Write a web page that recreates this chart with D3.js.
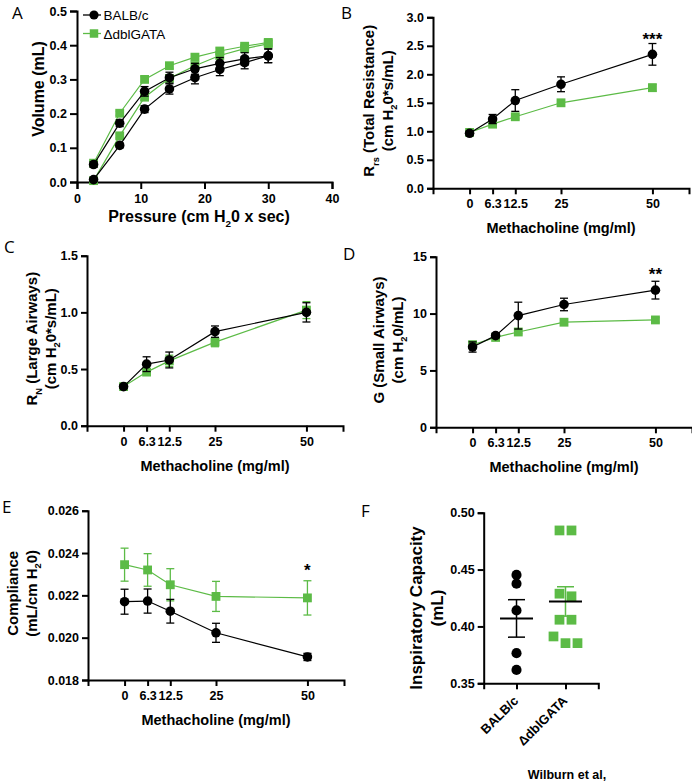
<!DOCTYPE html>
<html>
<head>
<meta charset="utf-8">
<script src="https://cdn.jsdelivr.net/npm/d3@7"></script>
<style>
  body { margin: 0; background: #fff; }
  text { font-family: "Liberation Sans", Arial, sans-serif; }
</style>
</head>
<body>
<svg width="692" height="781"></svg>
<script>
var BLACK = '#000';
var GREEN = '#5cbb46';

// Panel A - pressure/volume loops
var pvPressure = [2.6, 6.7, 10.6, 14.5, 18.5, 22.4, 26.3, 30];
var pvBalbUp = [0.051, 0.172, 0.265, 0.305, 0.331, 0.347, 0.360, 0.369];
var pvBalbUpErr = [0.008, 0.010, 0.014, 0.016, 0.016, 0.017, 0.018, 0.020];
var pvBalbLow = [0.007, 0.107, 0.213, 0.272, 0.305, 0.329, 0.349, 0.369];
var pvBalbLowErr = [0.004, 0.007, 0.010, 0.015, 0.018, 0.018, 0.018, 0.020];
var pvGataUp = [0.055, 0.201, 0.300, 0.340, 0.365, 0.383, 0.397, 0.408];
var pvGataUpErr = [0.006, 0.006, 0.008, 0.008, 0.009, 0.009, 0.009, 0.010];
var pvGataLow = [0.004, 0.135, 0.248, 0.303, 0.340, 0.370, 0.390, 0.404];
var pvGataLowErr = [0.003, 0.006, 0.008, 0.008, 0.009, 0.009, 0.009, 0.010];

// Panels B-E - methacholine dose response
var doses = [0, 6.3, 12.5, 25, 50];
var rrsBalb = [0.965, 1.215, 1.54, 1.825, 2.35];
var rrsBalbErr = [0.04, 0.08, 0.19, 0.13, 0.19];
var rrsGata = [0.98, 1.125, 1.255, 1.50, 1.765];
var rrsGataErr = [0.03, 0.03, 0.04, 0.05, 0.06];

var rnBalb = [0.345, 0.543, 0.58, 0.83, 1.0];
var rnBalbErr = [0.015, 0.065, 0.07, 0.05, 0.085];
var rnGata = [0.345, 0.473, 0.572, 0.737, 1.02];
var rnGataErr = [0.012, 0.025, 0.05, 0.04, 0.075];

var gBalb = [7.06, 8.06, 9.82, 10.8, 12.06];
var gBalbErr = [0.45, 0.2, 1.18, 0.55, 0.78];
var gGata = [7.26, 7.9, 8.38, 9.24, 9.44];
var gGataErr = [0.3, 0.15, 0.15, 0.2, 0.2];

var cBalb = [0.02170, 0.02173, 0.02125, 0.02023, 0.01909];
var cBalbErr = [0.00059, 0.00057, 0.00056, 0.00045, 0.00017];
var cGata = [0.02345, 0.0232, 0.0225, 0.02195, 0.02188];
var cGataErr = [0.00078, 0.00077, 0.00076, 0.00071, 0.00081];

// Panel F - inspiratory capacity
var icGroups = ['BALB/c', '\u0394dblGATA'];
var icBalb = [0.4453, 0.4376, 0.4141, 0.3765, 0.3618];
var icGata = [0.4844, 0.4844, 0.4288, 0.4265, 0.4059, 0.4059, 0.3912, 0.3853, 0.3853];

var svg = d3.select('svg');

// text with _{sub} markup
function rich(t, str, size) {
  var shift = size * 0.3;
  var pending = 0;
  str.split(/(_\{[^}]*\})/).forEach(function(p) {
    if (!p) return;
    if (p.indexOf('_{') === 0) {
      t.append('tspan').attr('dy', shift + pending).attr('font-size', size * 0.62).text(p.slice(2, -1));
      pending = -shift;
    } else {
      t.append('tspan').attr('dy', pending).text(p);
      pending = 0;
    }
  });
  return t;
}

function panelLetter(letter, x, y) {
  svg.append('text').text(letter)
    .attr('x', x).attr('y', y)
    .style('font-family', '"Open Sans", "Noto Sans", sans-serif')
    .style('font-size', '17px');
}

function yLabel(lines, x0, cy, size) {
  lines.forEach(function(l, i) {
    var t = svg.append('text')
      .attr('transform', 'translate(' + (x0 + i * size * 1.25) + ',' + cy + ') rotate(-90)')
      .attr('text-anchor', 'middle')
      .style('font-size', size + 'px')
      .style('font-weight', 'bold');
    rich(t, l, size);
  });
}

function styleAxis(g) {
  g.select('.domain').attr('stroke-width', 2);
  g.selectAll('.tick line').attr('stroke-width', 2);
  g.selectAll('.tick text')
    .style('font-size', '12.5px')
    .style('font-weight', 'bold')
    .style('font-family', '"Liberation Sans", Arial, sans-serif');
}

function drawSeries(g, x, y, xs, ys, errs, color, shape) {
  var pts = xs.map(function(d, i) { return { x: d, y: ys[i], e: errs[i] }; });
  var eb = g.append('g').attr('stroke', color).attr('stroke-width', 1.3);
  pts.forEach(function(p) {
    var cx = x(p.x);
    eb.append('line').attr('x1', cx).attr('x2', cx).attr('y1', y(p.y - p.e)).attr('y2', y(p.y + p.e));
    eb.append('line').attr('x1', cx - 4).attr('x2', cx + 4).attr('y1', y(p.y + p.e)).attr('y2', y(p.y + p.e));
    eb.append('line').attr('x1', cx - 4).attr('x2', cx + 4).attr('y1', y(p.y - p.e)).attr('y2', y(p.y - p.e));
  });
  g.append('path').datum(pts)
    .attr('fill', 'none').attr('stroke', color).attr('stroke-width', 1.2)
    .attr('d', d3.line().x(function(d) { return x(d.x); }).y(function(d) { return y(d.y); }));
  g.append('g').selectAll('path').data(pts).enter().append('path')
    .attr('transform', function(d) { return 'translate(' + x(d.x) + ',' + y(d.y) + ')'; })
    .attr('d', d3.symbol().type(shape).size(shape === d3.symbolSquare ? 78 : 72))
    .attr('fill', color);
}

function dosePanel(cfg) {
  var g = svg.append('g');
  var x = d3.scaleLinear().domain([-10, 60]).range([cfg.left, cfg.left + 256]);
  var y = d3.scaleLinear().domain(cfg.yDomain).range([cfg.bottom, cfg.top]);

  g.append('g').attr('transform', 'translate(0,' + cfg.bottom + ')')
    .call(d3.axisBottom(x).tickValues(doses).tickFormat(d3.format('')).tickSizeOuter(0).tickSize(6).tickPadding(5))
    .call(styleAxis);
  g.append('g').attr('transform', 'translate(' + cfg.left + ',0)')
    .call(d3.axisLeft(y).tickValues(cfg.yTicks).tickFormat(cfg.yFormat).tickSizeOuter(0).tickSize(6).tickPadding(3))
    .call(styleAxis);

  drawSeries(g, x, y, doses, cfg.gata, cfg.gataErr, GREEN, d3.symbolSquare);
  drawSeries(g, x, y, doses, cfg.balb, cfg.balbErr, BLACK, d3.symbolCircle);

  if (cfg.star) {
    var i = doses.length - 1;
    var top = Math.max(cfg.balb[i] + cfg.balbErr[i], cfg.gata[i] + cfg.gataErr[i]);
    g.append('text').text(cfg.star)
      .attr('x', x(doses[i])).attr('y', y(top) - cfg.starGap)
      .attr('text-anchor', 'middle')
      .style('font-size', '17px').style('font-weight', 'bold');
  }

  svg.append('text').text('Methacholine (mg/ml)')
    .attr('x', cfg.left + 128).attr('y', cfg.bottom + 45)
    .attr('text-anchor', 'middle')
    .style('font-size', '14.5px').style('font-weight', 'bold');

  yLabel(cfg.yLabel, cfg.left - cfg.labelOff, (cfg.top + cfg.bottom) / 2 - 2, 15);
}

// ---------- Panel A ----------
(function() {
  var left = 77, right = 332, top = 11, bottom = 182;
  var g = svg.append('g');
  var x = d3.scaleLinear().domain([0, 40]).range([left, right]);
  var y = d3.scaleLinear().domain([0, 0.5]).range([bottom, top]);

  g.append('g').attr('transform', 'translate(0,' + bottom + ')')
    .call(d3.axisBottom(x).ticks(4).tickSizeOuter(0).tickSize(7).tickPadding(5))
    .call(styleAxis);
  g.append('g').attr('transform', 'translate(' + left + ',0)')
    .call(d3.axisLeft(y).ticks(5).tickFormat(d3.format('.1f')).tickSizeOuter(0).tickSize(7).tickPadding(3))
    .call(styleAxis);

  drawSeries(g, x, y, pvPressure, pvGataUp, pvGataUpErr, GREEN, d3.symbolSquare);
  drawSeries(g, x, y, pvPressure, pvGataLow, pvGataLowErr, GREEN, d3.symbolSquare);
  drawSeries(g, x, y, pvPressure, pvBalbUp, pvBalbUpErr, BLACK, d3.symbolCircle);
  drawSeries(g, x, y, pvPressure, pvBalbLow, pvBalbLowErr, BLACK, d3.symbolCircle);

  // legend
  var legend = [
    { name: icGroups[0], color: BLACK, shape: d3.symbolCircle },
    { name: icGroups[1], color: GREEN, shape: d3.symbolSquare }
  ];
  legend.forEach(function(l, i) {
    var ly = 15 + i * 18.5;
    g.append('line').attr('x1', 83).attr('x2', 101).attr('y1', ly).attr('y2', ly)
      .attr('stroke', l.color).attr('stroke-width', 1.3);
    g.append('path').attr('transform', 'translate(94,' + ly + ')')
      .attr('d', d3.symbol().type(l.shape).size(l.shape === d3.symbolSquare ? 72 : 66)).attr('fill', l.color);
    g.append('text').text(l.name).attr('x', 103.5).attr('y', ly + 5)
      .style('font-size', '13.5px');
  });

  rich(svg.append('text').attr('x', 199).attr('y', 222).attr('text-anchor', 'middle')
    .style('font-size', '16px').style('font-weight', 'bold'), 'Pressure (cm H_{2}0 x sec)', 16);
  yLabel(['Volume (mL)'], 44, 89, 16);
  panelLetter('A', 12, 19);
})();

// ---------- Panels B-E ----------
dosePanel({
  left: 433, top: 17.3, bottom: 188.3, yDomain: [0, 3], yTicks: d3.range(0, 3.01, 0.5), yFormat: d3.format('.1f'),
  balb: rrsBalb, balbErr: rrsBalbErr, gata: rrsGata, gataErr: rrsGataErr,
  star: '***', starGap: -1, labelOff: 59,
  yLabel: ['R_{rs} (Total Resistance)', '(cm H_{2}0*s/mL)']
});
panelLetter('B', 341, 19);

dosePanel({
  left: 87, top: 255.7, bottom: 425.7, yDomain: [0, 1.5], yTicks: [0, 0.5, 1.0, 1.5], yFormat: d3.format('.1f'),
  balb: rnBalb, balbErr: rnBalbErr, gata: rnGata, gataErr: rnGataErr,
  labelOff: 50,
  yLabel: ['R_{N} (Large Airways)', '(cm H_{2}0*s/mL)']
});
panelLetter('C', 4, 253);

dosePanel({
  left: 436, top: 256.7, bottom: 427.3, yDomain: [0, 15], yTicks: [0, 5, 10, 15], yFormat: d3.format('d'),
  balb: gBalb, balbErr: gBalbErr, gata: gGata, gataErr: gGataErr,
  star: '**', starGap: 1, labelOff: 52,
  yLabel: ['G (Small Airways)', '(cm H_{2}0/mL)']
});
panelLetter('D', 343, 260);

dosePanel({
  left: 88, top: 510.7, bottom: 680, yDomain: [0.018, 0.026], yTicks: [0.018, 0.020, 0.022, 0.024, 0.026], yFormat: d3.format('.3f'),
  balb: cBalb, balbErr: cBalbErr, gata: cGata, gataErr: cGataErr,
  star: '*', starGap: 5, labelOff: 70,
  yLabel: ['Compliance', '(mL/cm H_{2}0)']
});
panelLetter('E', 2, 513);

// ---------- Panel F ----------
(function() {
  var left = 483.7, right = 598.3, top = 512.7, bottom = 683.3;
  var g = svg.append('g');
  var x = d3.scalePoint().domain(icGroups).range([left, right]).padding(0.67);
  var y = d3.scaleLinear().domain([0.35, 0.50]).range([bottom, top]);

  var xa = g.append('g').attr('transform', 'translate(0,' + bottom + ')')
    .call(d3.axisBottom(x).tickSizeOuter(0).tickSize(6))
    .call(styleAxis);
  xa.selectAll('.tick text')
    .attr('text-anchor', 'end')
    .attr('transform', 'translate(-1,15) rotate(-45)')
    .attr('dy', '0.35em').attr('y', 0)
    .style('font-size', '13px');
  g.append('g').attr('transform', 'translate(' + left + ',0)')
    .call(d3.axisLeft(y).tickValues([0.35, 0.40, 0.45, 0.50]).tickFormat(d3.format('.2f')).tickSizeOuter(0).tickSize(6).tickPadding(3))
    .call(styleAxis);

  // simple swarm: values closer than 8px share a row and are spread sideways
  function swarm(vals) {
    var sorted = vals.slice().sort(d3.descending);
    var rows = [], cur = [];
    sorted.forEach(function(v) {
      if (cur.length && y(v) - y(cur[cur.length - 1]) >= 8) { rows.push(cur); cur = []; }
      cur.push(v);
    });
    if (cur.length) rows.push(cur);
    var out = [];
    rows.forEach(function(r) {
      r.forEach(function(v, i) { out.push({ v: v, dx: (i - (r.length - 1) / 2) * 12 }); });
    });
    return out;
  }

  var groups = [
    { name: icGroups[0], vals: icBalb, color: BLACK, shape: d3.symbolCircle },
    { name: icGroups[1], vals: icGata, color: GREEN, shape: d3.symbolSquare }
  ];
  groups.forEach(function(gr) {
    var cx = x(gr.name);
    var mean = d3.mean(gr.vals);
    var sem = d3.deviation(gr.vals) / Math.sqrt(gr.vals.length);
    g.selectAll(null).data(swarm(gr.vals)).enter().append('path')
      .attr('transform', function(d) { return 'translate(' + (cx + d.dx) + ',' + y(d.v) + ')'; })
      .attr('d', d3.symbol().type(gr.shape).size(gr.shape === d3.symbolSquare ? 95 : 80))
      .attr('fill', gr.color);
    var eg = g.append('g').attr('stroke', gr.color).attr('stroke-width', 1.5);
    eg.append('line').attr('x1', cx).attr('x2', cx).attr('y1', y(mean - sem)).attr('y2', y(mean + sem));
    eg.append('line').attr('x1', cx - 8.5).attr('x2', cx + 8.5).attr('y1', y(mean + sem)).attr('y2', y(mean + sem));
    eg.append('line').attr('x1', cx - 8.5).attr('x2', cx + 8.5).attr('y1', y(mean - sem)).attr('y2', y(mean - sem));
    g.append('line').attr('x1', cx - 16.5).attr('x2', cx + 16.5).attr('y1', y(mean)).attr('y2', y(mean))
      .attr('stroke', BLACK).attr('stroke-width', 2);
  });

  yLabel(['Inspiratory Capacity', '(mL)'], 422, 608, 17);
  panelLetter('F', 361, 517);

  svg.append('text').text('Wilburn et al,')
    .attr('x', 567).attr('y', 779).attr('text-anchor', 'middle')
    .style('font-size', '12.5px').style('font-weight', 'bold');
})();
</script>
</body>
</html>
